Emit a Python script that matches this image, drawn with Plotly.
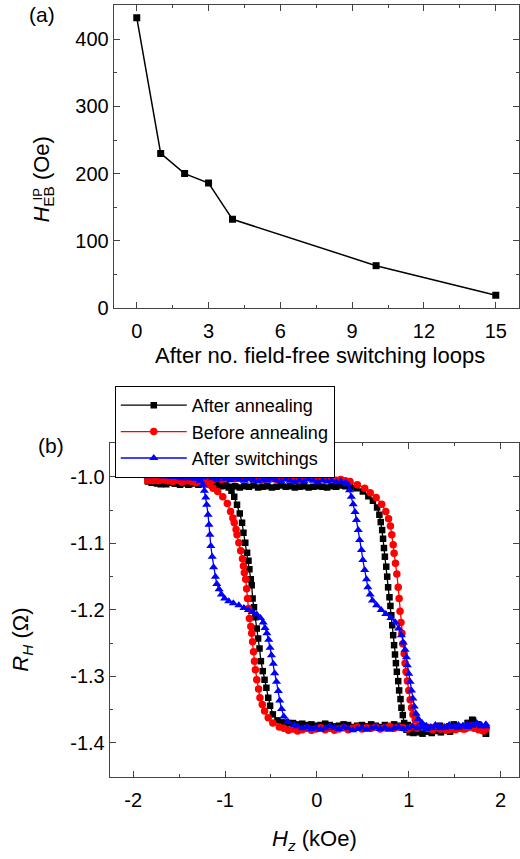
import plotly.graph_objects as go

# ---------------- Panel (a) data ----------------
loops = [0, 1, 2, 3, 4, 10, 15]
heb_ip = [432, 230, 200, 186, 132, 63, 19]
xa_tickvals = [0, 3, 6, 9, 12, 15]
ya_tickvals = [0, 100, 200, 300, 400]

# ---------------- Panel (b) data ----------------
# After annealing (black) - sweep down (+H -> -H)
blk_down_H = [1.84, 1.79, 1.74, 1.69, 1.64, 1.59, 1.54, 1.49, 1.44, 1.39, 1.34, 1.29, 1.24, 1.19, 1.14,
              1.09, 1.04, 0.99, 0.94, 0.89, 0.84, 0.79, 0.74, 0.69, 0.64, 0.59, 0.54, 0.49, 0.44, 0.39,
              0.34, 0.29, 0.24, 0.19, 0.14, 0.09, 0.04, -0.01, -0.06, -0.11, -0.16, -0.21, -0.26, -0.31,
              -0.34, -0.38, -0.43, -0.48, -0.51, -0.53, -0.55, -0.57, -0.59, -0.61, -0.625, -0.64, -0.655,
              -0.67, -0.685, -0.70, -0.71, -0.72, -0.735, -0.745, -0.76, -0.78, -0.80, -0.815, -0.84, -0.87,
              -0.90, -0.93, -0.96,
              -1.00, -1.05, -1.10, -1.15, -1.20, -1.25, -1.30, -1.35, -1.40, -1.45, -1.50, -1.55, -1.60,
              -1.65, -1.70, -1.75, -1.80, -1.84]
blk_down_R = [-1.386, -1.380, -1.372, -1.365, -1.370, -1.378, -1.376, -1.372, -1.375, -1.378, -1.374, -1.377,
              -1.380, -1.376, -1.374, -1.378, -1.376, -1.373, -1.375, -1.374, -1.372, -1.375, -1.373, -1.376,
              -1.374, -1.372, -1.375, -1.373, -1.374, -1.376, -1.373, -1.372, -1.374, -1.375, -1.373, -1.371,
              -1.373, -1.374, -1.372, -1.373, -1.371, -1.372, -1.370, -1.370,
              -1.371, -1.369, -1.366, -1.357, -1.344, -1.332, -1.317, -1.305, -1.292, -1.277, -1.258, -1.243,
              -1.228, -1.211, -1.196, -1.183, -1.163, -1.154, -1.139, -1.126, -1.114, -1.099, -1.084, -1.069,
              -1.055, -1.042, -1.030, -1.021, -1.016,
              -1.013, -1.011, -1.012, -1.010, -1.009, -1.011, -1.008, -1.010, -1.012, -1.009, -1.008, -1.010,
              -1.007, -1.009, -1.011, -1.008, -1.009, -1.007]
# After annealing (black) - sweep up (-H -> +H)
blk_up_H = [-1.84, -1.79, -1.74, -1.69, -1.64, -1.59, -1.54, -1.49, -1.44, -1.39, -1.34, -1.29, -1.24, -1.19,
            -1.14, -1.09, -1.04, -0.99, -0.94, -0.89, -0.84, -0.79, -0.74, -0.69, -0.64, -0.59, -0.54, -0.49,
            -0.44, -0.39, -0.34, -0.29, -0.24, -0.19, -0.14, -0.09, -0.04, 0.01, 0.06, 0.11, 0.16, 0.21, 0.26,
            0.31, 0.36,
            0.43, 0.50, 0.56, 0.61, 0.655, 0.68, 0.695, 0.71, 0.72, 0.73, 0.74, 0.755, 0.765, 0.775, 0.79,
            0.80, 0.81, 0.82, 0.83, 0.84, 0.85, 0.86, 0.87, 0.885, 0.895, 0.91, 0.92, 0.935, 0.95, 0.975, 1.01,
            1.05, 1.10, 1.15, 1.20, 1.25, 1.30, 1.35, 1.40, 1.45, 1.50, 1.55, 1.60, 1.65, 1.70, 1.75, 1.80, 1.84]
blk_up_R = [-1.006, -1.008, -1.010, -1.009, -1.011, -1.009, -1.010, -1.012, -1.010, -1.011, -1.009, -1.012,
            -1.010, -1.011, -1.013, -1.012, -1.014, -1.013, -1.015, -1.014, -1.016, -1.014, -1.015, -1.013,
            -1.016, -1.015, -1.014, -1.016, -1.015, -1.013, -1.015, -1.014, -1.016, -1.015, -1.014, -1.016,
            -1.015, -1.014, -1.015, -1.016, -1.014, -1.015, -1.013, -1.014, -1.015,
            -1.017, -1.022, -1.029, -1.036, -1.046, -1.057, -1.068, -1.080, -1.093, -1.107, -1.120, -1.135,
            -1.150, -1.166, -1.181, -1.194, -1.208, -1.223, -1.238, -1.253, -1.267, -1.280, -1.293, -1.307,
            -1.321, -1.334, -1.347, -1.358, -1.370, -1.380, -1.384,
            -1.385, -1.384, -1.386, -1.383, -1.385, -1.382, -1.384, -1.381, -1.383, -1.380, -1.378, -1.376,
            -1.370, -1.366, -1.372, -1.380, -1.386]

# Before annealing (red)
red_down_H = [1.84, 1.79, 1.74, 1.69, 1.64, 1.59, 1.54, 1.49, 1.44, 1.39, 1.34, 1.29, 1.24, 1.19, 1.14,
              1.09, 1.04, 0.99, 0.94, 0.89, 0.84, 0.79, 0.74, 0.69, 0.64, 0.59, 0.54, 0.49, 0.44, 0.39,
              0.34, 0.29, 0.24, 0.19, 0.14, 0.09, 0.04, -0.01, -0.06, -0.11, -0.16, -0.21, -0.26, -0.31, -0.36,
              -0.41, -0.48, -0.53, -0.57, -0.595, -0.62, -0.635, -0.655, -0.67, -0.68, -0.69, -0.70, -0.71,
              -0.72, -0.735, -0.745, -0.755, -0.765, -0.775, -0.79, -0.80, -0.81, -0.83, -0.85, -0.87, -0.88,
              -0.90, -0.915, -0.94, -0.975, -1.025, -1.08, -1.13, -1.17,
              -1.22, -1.27, -1.32, -1.37, -1.42, -1.47, -1.52, -1.57, -1.62, -1.67, -1.72, -1.77, -1.81, -1.84]
red_down_R = [-1.378, -1.380, -1.376, -1.374, -1.377, -1.379, -1.376, -1.378, -1.380, -1.377, -1.379, -1.376,
              -1.378, -1.377, -1.375, -1.378, -1.376, -1.379, -1.377, -1.376, -1.378, -1.375, -1.377, -1.379,
              -1.376, -1.378, -1.377, -1.379, -1.376, -1.378, -1.380, -1.377, -1.379, -1.381, -1.378, -1.380,
              -1.377, -1.379, -1.381, -1.378, -1.380, -1.382, -1.379, -1.381, -1.378,
              -1.376, -1.370, -1.362, -1.352, -1.342, -1.332, -1.319, -1.305, -1.290, -1.277, -1.263, -1.248,
              -1.235, -1.225, -1.213, -1.198, -1.183, -1.168, -1.154, -1.144, -1.134, -1.123, -1.111, -1.099,
              -1.087, -1.079, -1.069, -1.062, -1.052, -1.040, -1.030, -1.022, -1.017, -1.012,
              -1.010, -1.008, -1.009, -1.007, -1.006, -1.008, -1.005, -1.007, -1.006, -1.004, -1.006, -1.005,
              -1.004, -1.006]
red_up_H = [-1.84, -1.79, -1.74, -1.69, -1.64, -1.59, -1.54, -1.49, -1.44, -1.39, -1.34, -1.29, -1.24, -1.19,
            -1.14, -1.09, -1.04, -0.99, -0.94, -0.89, -0.84, -0.79, -0.74, -0.69, -0.64, -0.59, -0.54, -0.49,
            -0.44, -0.39, -0.34, -0.29, -0.24, -0.19, -0.14, -0.09, -0.04, 0.01, 0.06, 0.11, 0.16, 0.21, 0.26,
            0.31, 0.36,
            0.44, 0.52, 0.58, 0.645, 0.705, 0.75, 0.78, 0.80, 0.815, 0.83, 0.84, 0.855, 0.87, 0.885, 0.895,
            0.905, 0.915, 0.925, 0.935, 0.95, 0.96, 0.97, 0.985, 1.00, 1.015, 1.03, 1.045, 1.07, 1.115,
            1.16, 1.21, 1.26, 1.31, 1.36, 1.41, 1.46, 1.51, 1.56, 1.61, 1.66, 1.71, 1.76, 1.81, 1.84]
red_up_R = [-1.004, -1.006, -1.005, -1.003, -1.005, -1.004, -1.002, -1.004, -1.003, -1.005, -1.004, -1.006,
            -1.004, -1.003, -1.005, -1.002, -1.004, -1.003, -1.001, -1.003, -1.002, -0.998, -1.001, -1.003,
            -1.002, -1.004, -1.003, -1.002, -1.004, -1.003, -1.001, -1.003, -1.002, -1.004, -1.003, -1.001,
            -0.999, -1.002, -1.003, -1.004, -1.002, -1.005, -1.004, -1.006, -1.007,
            -1.012, -1.017, -1.024, -1.031, -1.041, -1.052, -1.063, -1.074, -1.087, -1.102, -1.115, -1.130,
            -1.146, -1.166, -1.183, -1.202, -1.219, -1.235, -1.251, -1.266, -1.280, -1.293, -1.307, -1.321,
            -1.335, -1.347, -1.357, -1.365, -1.371,
            -1.376, -1.378, -1.380, -1.377, -1.379, -1.381, -1.378, -1.380, -1.377, -1.379, -1.376, -1.378,
            -1.380, -1.382, -1.379]

# After switchings (blue)
blu_down_H = [1.84, 1.79, 1.74, 1.69, 1.64, 1.59, 1.54, 1.49, 1.44, 1.39, 1.34, 1.29, 1.24, 1.19, 1.14,
              1.09, 1.04, 0.99, 0.94, 0.89, 0.84, 0.79, 0.74, 0.69, 0.64, 0.59, 0.54, 0.49, 0.44, 0.39,
              0.34, 0.29, 0.24, 0.19, 0.14, 0.09, 0.04, -0.01, -0.06, -0.11, -0.16, -0.21,
              -0.245, -0.315, -0.36, -0.385, -0.405, -0.42, -0.44, -0.46, -0.475, -0.495, -0.51, -0.525,
              -0.545, -0.565, -0.585, -0.615, -0.655, -0.70, -0.745, -0.795, -0.85, -0.91, -0.96, -1.005,
              -1.04, -1.065, -1.09, -1.105, -1.125, -1.14, -1.155, -1.165, -1.175, -1.185, -1.20, -1.21,
              -1.225, -1.24,
              -1.27, -1.32, -1.37, -1.42, -1.47, -1.52, -1.57, -1.62, -1.67, -1.72, -1.77, -1.81, -1.84]
blu_down_R = [-1.372, -1.375, -1.370, -1.373, -1.376, -1.374, -1.377, -1.375, -1.373, -1.376, -1.378, -1.375,
              -1.377, -1.379, -1.376, -1.378, -1.375, -1.377, -1.379, -1.376, -1.378, -1.380, -1.377, -1.379,
              -1.376, -1.378, -1.380, -1.377, -1.379, -1.381, -1.378, -1.376, -1.379, -1.377, -1.375, -1.378,
              -1.380, -1.377, -1.379, -1.376, -1.378, -1.375,
              -1.373, -1.368, -1.360, -1.349, -1.336, -1.322, -1.308, -1.295, -1.281, -1.268, -1.257, -1.245,
              -1.235, -1.227, -1.219, -1.212, -1.207, -1.203, -1.200, -1.197, -1.193, -1.190, -1.187, -1.183,
              -1.177, -1.169, -1.161, -1.150, -1.136, -1.120, -1.104, -1.087, -1.072, -1.057, -1.042, -1.031,
              -1.021, -1.012,
              -1.006, -1.003, -1.001, -0.999, -1.002, -0.998, -1.000, -0.997, -0.999, -0.996, -0.998, -0.997,
              -0.999]
blu_up_H = [-1.84, -1.79, -1.74, -1.69, -1.64, -1.59, -1.54, -1.49, -1.44, -1.39, -1.34, -1.29, -1.24, -1.19,
            -1.14, -1.09, -1.04, -0.99, -0.94, -0.89, -0.84, -0.79, -0.74, -0.69, -0.64, -0.59, -0.54, -0.49,
            -0.44, -0.39, -0.34, -0.29, -0.24, -0.19, -0.14, -0.09, -0.04, 0.01, 0.06, 0.11, 0.16, 0.21, 0.26,
            0.31,
            0.335, 0.355, 0.375, 0.395, 0.415, 0.43, 0.45, 0.465, 0.485, 0.50, 0.52, 0.54, 0.555, 0.58, 0.605,
            0.65, 0.70, 0.75, 0.805, 0.855, 0.89, 0.92, 0.94, 0.96, 0.975, 0.985, 1.00, 1.015, 1.03, 1.045,
            1.06, 1.08, 1.105, 1.145,
            1.19, 1.24, 1.29, 1.34, 1.39, 1.44, 1.49, 1.54, 1.59, 1.64, 1.69, 1.74, 1.79, 1.84]
blu_up_R = [-0.996, -0.998, -0.995, -0.999, -0.997, -1.000, -0.998, -1.001, -0.999, -1.002, -1.000, -1.003,
            -1.001, -0.999, -1.002, -1.004, -1.001, -1.003, -1.005, -1.002, -1.004, -1.006, -1.003, -1.005,
            -1.007, -1.004, -1.006, -1.003, -1.005, -1.007, -1.004, -1.006, -1.008, -1.005, -1.007, -1.004,
            -1.006, -1.008, -1.005, -1.007, -1.006, -1.008, -1.007, -1.009,
            -1.011, -1.020, -1.030, -1.041, -1.053, -1.065, -1.080, -1.095, -1.110, -1.125, -1.140, -1.154,
            -1.166, -1.177, -1.186, -1.193, -1.200, -1.206, -1.212, -1.219, -1.228, -1.238, -1.249, -1.260,
            -1.271, -1.283, -1.296, -1.308, -1.321, -1.333, -1.345, -1.356, -1.364, -1.370,
            -1.374, -1.376, -1.373, -1.375, -1.377, -1.374, -1.376, -1.373, -1.375, -1.372, -1.374, -1.371,
            -1.373, -1.375]

series_names = ["After annealing", "Before annealing", "After switchings"]
xb_tickvals = [-2, -1, 0, 1, 2]
xb_ticktext = ["-2", "-1", "0", "1", "2"]
yb_tickvals = [-1.4, -1.3, -1.2, -1.1, -1.0]
yb_ticktext = ["-1.4", "-1.3", "-1.2", "-1.1", "-1.0"]

for a, b in [(blk_down_H, blk_down_R), (blk_up_H, blk_up_R), (red_down_H, red_down_R),
             (red_up_H, red_up_R), (blu_down_H, blu_down_R), (blu_up_H, blu_up_R)]:
    assert len(a) == len(b), (len(a), len(b))

# ---------------- Figure ----------------
W, H = 520, 859
FONT = "Liberation Sans, Arial, Helvetica, sans-serif"


def px(x):
    return x / W


def py(y):
    return 1 - y / H


fig = go.Figure()

fig.add_trace(go.Scatter(
    x=loops, y=heb_ip, mode="lines+markers", xaxis="x", yaxis="y",
    line=dict(color="black", width=1.5),
    marker=dict(symbol="square", size=7, color="black"),
    showlegend=False))

styles = [
    ("black", "square", 6.5),
    ("#ff0000", "circle", 7.5),
    ("#0000ff", "triangle-up", 8),
]
data_b = [
    (blk_down_H + blk_up_H, blk_down_R + blk_up_R),
    (red_down_H + red_up_H, red_down_R + red_up_R),
    (blu_down_H + blu_up_H, blu_down_R + blu_up_R),
]
for name, (color, sym, size), (xs, ys) in zip(series_names, styles, data_b):
    fig.add_trace(go.Scatter(
        x=xs, y=ys, mode="lines+markers", name=name, xaxis="x2", yaxis="y2",
        line=dict(color=color, width=1.3),
        marker=dict(symbol=sym, size=size, color=color, line=dict(width=0))))

axis_common = dict(
    showline=True, linecolor="#444", linewidth=1.2, mirror="ticks",
    ticks="inside", ticklen=6, tickwidth=1.2, tickcolor="#444",
    showgrid=False, zeroline=False,
    tickfont=dict(family=FONT, size=20, color="black"),
)

fig.update_layout(
    width=W, height=H,
    margin=dict(l=0, r=0, t=0, b=0),
    paper_bgcolor="white", plot_bgcolor="white",
    font=dict(family=FONT, color="black"),
    xaxis=dict(domain=[px(114), 1.0], range=[-0.96, 15.97], anchor="y",
               tickvals=xa_tickvals, ticklabelstandoff=5,
               minor=dict(dtick=1.5, tick0=0, ticks="inside", ticklen=3, tickcolor="#444"),
               **axis_common),
    yaxis=dict(domain=[py(312), py(5)], range=[0, 451], anchor="x",
               tickvals=ya_tickvals,
               minor=dict(dtick=50, tick0=0, ticks="inside", ticklen=3, tickcolor="#444"),
               **axis_common),
    xaxis2=dict(domain=[px(110), 1.0], range=[-2.255, 2.2], anchor="y2",
                tickvals=xb_tickvals, ticktext=xb_ticktext, ticklabelstandoff=5,
                minor=dict(dtick=0.5, tick0=0, ticks="inside", ticklen=3, tickcolor="#444"),
                **axis_common),
    yaxis2=dict(domain=[py(787), py(449)], range=[-1.451, -0.9495], anchor="x2",
                tickvals=yb_tickvals, ticktext=yb_ticktext,
                minor=dict(dtick=0.05, tick0=0, ticks="inside", ticklen=3, tickcolor="#444"),
                **axis_common),
    legend=dict(x=px(115), y=py(391), xanchor="left", yanchor="top",
                bgcolor="white", bordercolor="black", borderwidth=1,
                font=dict(family=FONT, size=18, color="black"),
                itemwidth=66, entrywidth=230, entrywidthmode="pixels", tracegroupgap=0),
    showlegend=True,
)

ann_font = dict(family=FONT, size=22, color="black")
annotations = [
    dict(text="(a)", x=px(42), y=py(15), font=dict(family=FONT, size=21, color="black")),
    dict(text="(b)", x=px(51), y=py(451), font=dict(family=FONT, size=21, color="black")),
    dict(text="After no. field-free switching loops", x=px(321), y=py(360), font=ann_font),
    dict(text="<i>H</i><sub>EB</sub> (Oe)", x=px(43), y=py(181), textangle=-90, font=ann_font),
    dict(text="IP", x=px(38), y=py(197), textangle=-90, font=dict(family=FONT, size=13, color="black")),
    dict(text="<i>R</i><sub><i>H</i></sub> (Ω)", x=px(22), y=py(648), textangle=-90, font=ann_font),
    dict(text="<i>H</i><sub><i>z</i></sub> (kOe)", x=px(315), y=py(851), font=ann_font),
]
for a in annotations:
    a.update(xref="paper", yref="paper", showarrow=False, xanchor="center", yanchor="middle")
fig.update_layout(annotations=annotations)

fig.write_html("out.html", config={"displayModeBar": False},
               post_script="document.body.style.margin='0';document.body.style.padding='0';")
